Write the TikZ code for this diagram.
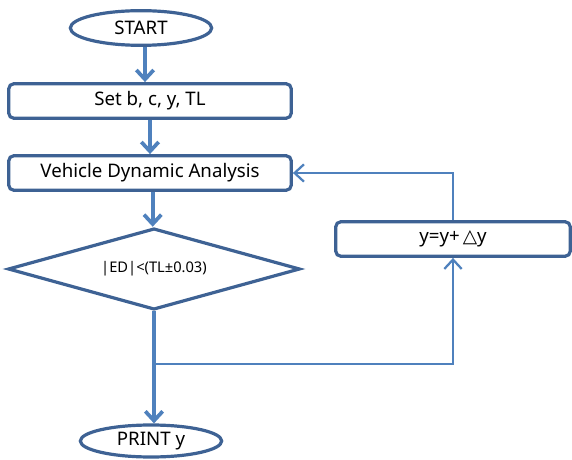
\documentclass[tikz,border=0pt]{standalone}
\usepackage{fontspec}
\setmainfont{Noto Sans}
\usetikzlibrary{shapes.geometric, arrows.meta, positioning}
\definecolor{boxblue}{RGB}{62,98,148}
\definecolor{lineblue}{RGB}{79,129,189}

\begin{document}
\begin{tikzpicture}[
    x=0.75pt, y=-0.75pt,
    >={Straight Barb[length=7pt,width=13pt]},
    terminal/.style={ellipse, draw=boxblue, line width=2.4pt, minimum width=106pt, inner sep=0pt, font=\fontsize{14}{16}\selectfont},
    process/.style={rectangle, rounded corners=4pt, draw=boxblue, line width=2.4pt, minimum width=212pt, minimum height=26pt, inner sep=0pt, font=\fontsize{14}{16}\selectfont},
    decision/.style={diamond, aspect=3.6, draw=boxblue, line width=2.4pt, minimum width=219pt, minimum height=61pt, inner sep=0pt, font=\fontsize{11}{13}\selectfont},
    mainflow/.style={->, draw=lineblue, line width=2.8pt},
    loopflow/.style={->, draw=lineblue, line width=1.7pt}
]
    \useasboundingbox (0,0) rectangle (572,460);

    \node[terminal, minimum height=26pt] (start) at (141,28) {START};
    \node[process] (set) at (150,101) {Set b, c, y, TL};
    \node[process] (vda) at (150,173) {Vehicle Dynamic Analysis};
    \node[decision] (check) at (154,269) {|ED|<(TL±0.03)};
    \node[process, minimum width=176pt] (update) at (453,239) {y=y+\,{\fontspec{DejaVu Sans}△}y};
    \node[terminal, minimum height=24pt] (print) at (151,441) {PRINT y};
    \coordinate (branch) at (check.south |- 0,364);

    \draw[mainflow] ([xshift=3pt]start.south) -- ([xshift=3pt]start.south |- set.north);
    \draw[mainflow] (set.south) -- (vda.north);
    \draw[mainflow] ([xshift=2pt]vda.south) -- ([xshift=2pt]vda.south |- check.north);
    \draw[mainflow] (check.south) -- (check.south |- print.north);
    \draw[loopflow] (branch) -| (update.south);
    \draw[loopflow] (update.north) |- (vda.east);

\end{tikzpicture}
\end{document}
